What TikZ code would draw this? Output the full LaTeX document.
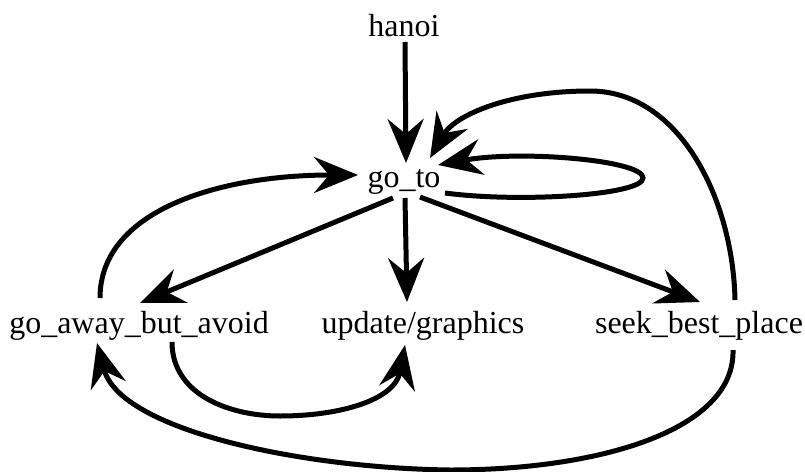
\documentclass[tikz,border=0pt]{standalone}
\usepackage{fontspec}
\setmainfont{Liberation Serif}
\usetikzlibrary{arrows.meta,calc}
\tikzset{
  lbl/.style={anchor=base,inner sep=0pt,font=\fontsize{32}{36}\selectfont},
  arr/.style={line width=5pt,-{Stealth[length=44pt,width=36pt,inset=15pt]}},
}
\begin{document}
\begin{tikzpicture}[x=1pt,y=-1pt]
\useasboundingbox (0,0) rectangle (805,471);
% states
\node[lbl] (hanoi) at (404,36) {hanoi};
\node[lbl] (goto)  at (404,187) {go\_to};
\node[lbl] (gaba)  at (139,333) {go\_away\_but\_avoid};
\node[lbl] (upd)   at (423,333) {update/graphics};
\node[lbl] (seek)  at (699,333) {seek\_best\_place};
% calls
\draw[arr] ($(hanoi.base)+(1,6)$) -- ($(goto.base)+(2,-24)$);
\draw[arr] ($(goto.base)+(-11,11)$) -- ($(gaba.base)+(1,-30)$);
\draw[arr] ($(goto.base)+(1,11)$) -- ($(upd.base)+(-16,-31)$);
\draw[arr] ($(goto.base)+(16,10)$) -- ($(seek.base)+(1,-31)$);
% go_to calls itself
\draw[arr] ($(goto.base)+(41,6)$) .. controls (520,203) and (643,195) .. (643,178)
  .. controls (643,160) and (520,150) .. ($(goto.base)+(34,-22)$);
% seek_best_place back to go_to
\draw[arr] ($(seek.base)+(36,-33)$) .. controls (733,200) and (680,91) .. (590,91)
  .. controls (510,91) and (455,115) .. ($(goto.base)+(26,-29)$);
% go_away_but_avoid back to go_to
\draw[arr] ($(gaba.base)+(-39,-35)$) .. controls (100,210) and (220,175) .. ($(goto.base)+(-46,-12)$);
% go_away_but_avoid to update/graphics
\draw[arr] ($(gaba.base)+(33,9)$) .. controls (172,395) and (230,416) .. (280,416)
  .. controls (340,416) and (395,400) .. ($(upd.base)+(-18,12)$);
% seek_best_place to go_away_but_avoid
\draw[arr] ($(seek.base)+(34,17)$) .. controls (735,430) and (600,470) .. (450,470)
  .. controls (300,468) and (120,430) .. ($(gaba.base)+(-42,10)$);
\end{tikzpicture}
\end{document}
